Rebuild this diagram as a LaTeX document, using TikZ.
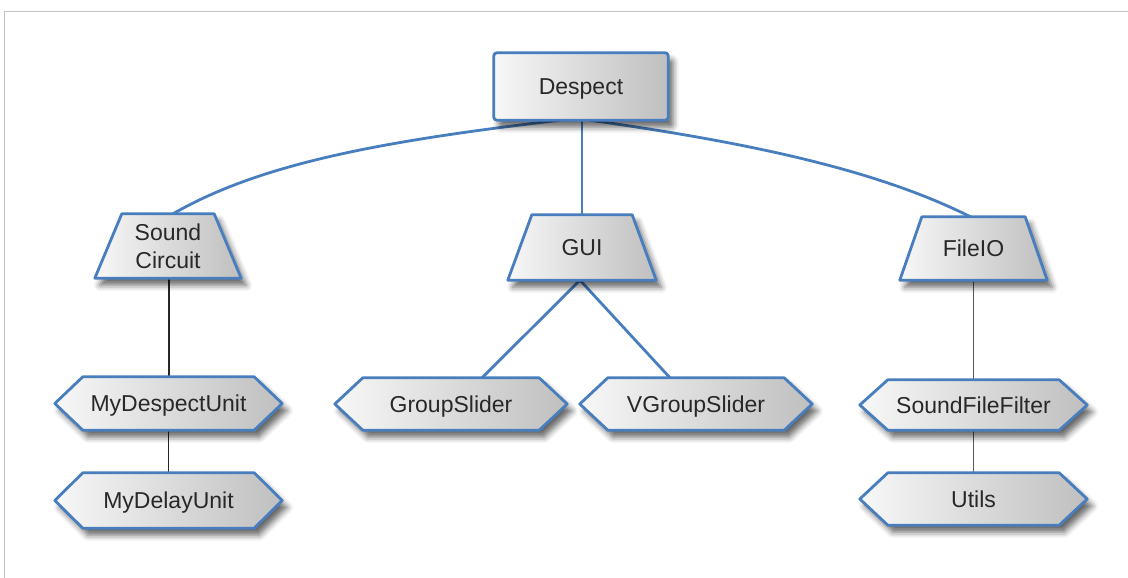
\documentclass[tikz,border=0pt]{standalone}
\usepackage{fontspec}
\setmainfont{Liberation Sans}
\usetikzlibrary{calc,shadows.blur}

\definecolor{edgeblue}{RGB}{72,126,190}
\definecolor{textgray}{RGB}{40,40,40}
\definecolor{framegray}{RGB}{195,195,195}

\pgfdeclarelayer{bg}
\pgfdeclarelayer{shapes}
\pgfsetlayers{bg,shapes,main}

\tikzset{
  label text/.style={inner sep=0pt, text=textgray, align=center,
    text height=16.5pt, text depth=0pt,
    font=\fontsize{23}{28}\selectfont},
  two lines/.style={text height=44.5pt},
  box fill/.style={left color=gray!6, right color=gray!50, draw=edgeblue,
    line width=2.8pt, line join=round,
    blur shadow={shadow xshift=5pt, shadow yshift=-7pt,
      shadow blur radius=6pt, shadow opacity=60}},
  blue link/.style={draw=edgeblue, line width=2.8pt},
  thin link/.style={draw=black!85, line width=1.4pt},
  gray link/.style={draw=gray!70!black, line width=1.7pt},
}

% hexagon with pointed left and right ends, drawn around a named node
\newcommand\hexbox[2]{%
  \path[box fill] (#1.west) -- ($(#1.north west)+(#2,0)$)
    -- ($(#1.north east)+(-#2,0)$) -- (#1.east)
    -- ($(#1.south east)+(-#2,0)$) -- ($(#1.south west)+(#2,0)$) -- cycle;}
% trapezium, narrow at the top, drawn around a named node
\newcommand\trapbox[2]{%
  \path[box fill] (#1.south west) -- ($(#1.north west)+(#2,0)$)
    -- ($(#1.north east)+(-#2,0)$) -- (#1.south east) -- cycle;}
% plain box with slightly rounded corners around a named node
\newcommand\plainbox[1]{%
  \path[box fill, rounded corners=3pt] (#1.south west) -- (#1.north west)
    -- (#1.north east) -- (#1.south east) -- cycle;}

\begin{document}
\begin{tikzpicture}[x=1pt,y=-1pt]
\useasboundingbox (0,0) rectangle (1128,578);

% page frame, open on the right
\draw[framegray, line width=1.5pt] (4.5,590) -- (4.5,11.5) -- (1140,11.5);

% root
\node[label text, minimum width=174pt, minimum height=67pt] (d) at (581,86.5) {Despect};

% packages
\node[label text, two lines, minimum width=146pt, minimum height=64pt] (sc) at (168,246) {Sound\\Circuit};
\node[label text, minimum width=148pt, minimum height=65pt] (gui) at (582,247.5) {GUI};
\node[label text, minimum width=147pt, minimum height=63pt] (fio) at (973.5,248.5) {FileIO};

% classes
\node[label text, minimum width=227pt, minimum height=53pt] (mdu) at (168.5,403.5) {MyDespectUnit};
\node[label text, minimum width=227pt, minimum height=55pt] (mdl) at (168.5,500.5) {MyDelayUnit};
\node[label text, minimum width=232pt, minimum height=52pt] (gs) at (451,404) {GroupSlider};
\node[label text, minimum width=232pt, minimum height=52pt] (vgs) at (696,404) {VGroupSlider};
\node[label text, minimum width=227pt, minimum height=50pt] (sff) at (973.5,405) {SoundFileFilter};
\node[label text, minimum width=227pt, minimum height=52pt] (ut) at (973.5,499) {Utils};

\begin{pgfonlayer}{shapes}
  \plainbox{d}
  \trapbox{sc}{27}
  \trapbox{gui}{24}
  \trapbox{fio}{22}
  \hexbox{mdu}{28}
  \hexbox{mdl}{28}
  \hexbox{gs}{28}
  \hexbox{vgs}{28}
  \hexbox{sff}{28}
  \hexbox{ut}{28}
\end{pgfonlayer}

% connectors
\begin{pgfonlayer}{bg}
  \path[blue link] ($(d.south)+(-21,0)$) .. controls +(-180,21) and +(87,-50) .. ($(sc.north)+(5,0)$);
  \path[blue link] ($(d.south)+(9,0)$) .. controls +(170,24) and +(-90,-45) .. ($(fio.north)+(-3,0)$);
  \path[blue link] (gui.north |- d.south) -- (gui.north);
  \path[blue link] ($(gui.south)+(-2,0)$) -- ($(gs.north)+(31,0)$);
  \path[blue link] ($(gui.south)+(-2,0)$) -- ($(vgs.north)+(-26,0)$);
  \path[thin link] ($(sc.south)+(1,0)$) -- ($(mdu.north)+(0.5,0)$);
  \path[thin link] (mdu.south) -- (mdl.north);
  \path[gray link] (fio.south) -- (sff.north);
  \path[gray link] (sff.south) -- (ut.north);
\end{pgfonlayer}
\end{tikzpicture}
\end{document}
